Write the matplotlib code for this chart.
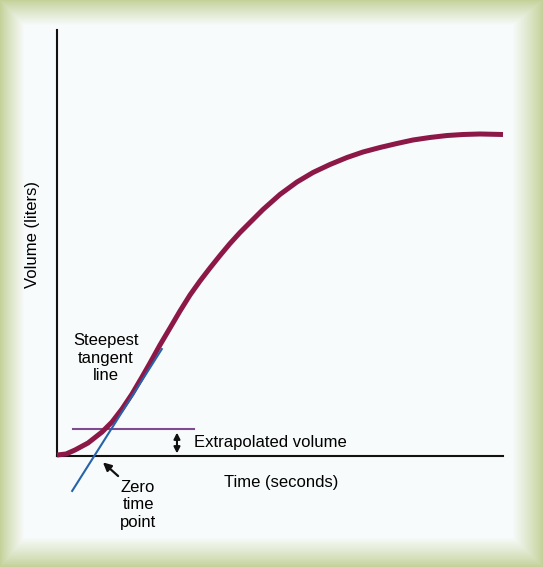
import numpy as np
import matplotlib
matplotlib.use("Agg")
import matplotlib.pyplot as plt

plt.rcParams['font.family'] = ['Liberation Sans', 'DejaVu Sans']

# volume-time curve (arbitrary units)
time_vals = [0.0, 0.202, 0.404, 0.695, 1.009, 1.233, 1.457, 1.682, 1.906, 2.085,
             2.309, 2.534, 2.758, 2.982, 3.206, 3.430, 3.655, 3.879, 4.103, 4.327,
             4.619, 5.000, 5.381, 5.740, 6.121, 6.502, 6.861, 7.242, 7.623, 7.982,
             8.363, 8.744, 9.103, 9.484, 10.0]
volume_vals = [0.023, 0.047, 0.141, 0.305, 0.563, 0.798, 1.103, 1.455, 1.854, 2.183,
               2.606, 3.005, 3.404, 3.779, 4.108, 4.413, 4.707, 4.988, 5.246, 5.481,
               5.786, 6.140, 6.432, 6.655, 6.843, 7.007, 7.136, 7.242, 7.336, 7.418,
               7.477, 7.523, 7.547, 7.559, 7.547]

# steepest tangent line and extrapolated volume level
tangent_t = [0.34, 2.35]
tangent_v = [-0.82, 2.51]
extrap_t = [0.36, 3.07]
extrap_v = 0.64

W, H = 543, 567
fig = plt.figure(figsize=(W / 100, H / 100), dpi=100)

# green bevel frame background
bg = fig.add_axes([0, 0, 1, 1])
xx, yy = np.meshgrid(np.arange(W), np.arange(H))
t = np.minimum.reduce([xx / 24.0, (W - 1 - xx) / 30.0, yy / 25.0, (H - 1 - yy) / 29.0])
t = np.clip(t, 0, 1) ** 0.9
green = np.array([196, 210, 154]) / 255.0
white = np.array([248, 251, 251]) / 255.0
img = green[None, None, :] + (white - green)[None, None, :] * t[:, :, None]
bg.imshow(img, aspect='auto', interpolation='bilinear')
bg.axis('off')

ax = fig.add_axes([57 / W, 1 - 456 / H, (503 - 57) / W, (456 - 30) / H])
ax.patch.set_alpha(0)
ax.set_xlim(0, 10)
ax.set_ylim(0, 10)
for s in ['top', 'right']:
    ax.spines[s].set_visible(False)
for s in ['left', 'bottom']:
    ax.spines[s].set_linewidth(1.5)
    ax.spines[s].set_color('#111111')
ax.set_xticks([])
ax.set_yticks([])

ax.plot(time_vals, volume_vals, color='#8c1848', lw=3.6, solid_capstyle='butt',
        solid_joinstyle='round', clip_on=False, zorder=3)
ax.plot(tangent_t, tangent_v, color='#2563aa', lw=1.5, clip_on=False, zorder=4)
ax.plot(extrap_t, [extrap_v, extrap_v], color='#7d4b8e', lw=1.5, clip_on=False, zorder=2)

# double arrow for extrapolated volume
ax.annotate('', xy=(2.69, 0.55), xytext=(2.69, 0.06),
            arrowprops=dict(arrowstyle='<|-|>', color='#111111', lw=1.5,
                            mutation_scale=9, shrinkA=0, shrinkB=0))
ax.text(3.07, 0.31, 'Extrapolated volume', fontsize=12, va='center', ha='left')

ax.text(1.10, 2.30, 'Steepest\ntangent\nline', fontsize=12, ha='center',
        va='center', linespacing=1.2)

ax.annotate('', xy=(1.03, -0.15), xytext=(1.37, -0.47),
            arrowprops=dict(arrowstyle='-|>', color='#111111', lw=1.6,
                            mutation_scale=12, shrinkA=0, shrinkB=0),
            annotation_clip=False)
ax.text(1.82, -1.15, 'Zero\ntime\npoint', fontsize=12, ha='center',
        va='center', linespacing=1.2, clip_on=False)

ax.text(5.02, -0.63, 'Time (seconds)', fontsize=12, ha='center', va='center')
ax.text(-0.56, 5.21, 'Volume (liters)', fontsize=12, ha='center', va='center',
        rotation=90)

fig.savefig('out.png', dpi=100)
